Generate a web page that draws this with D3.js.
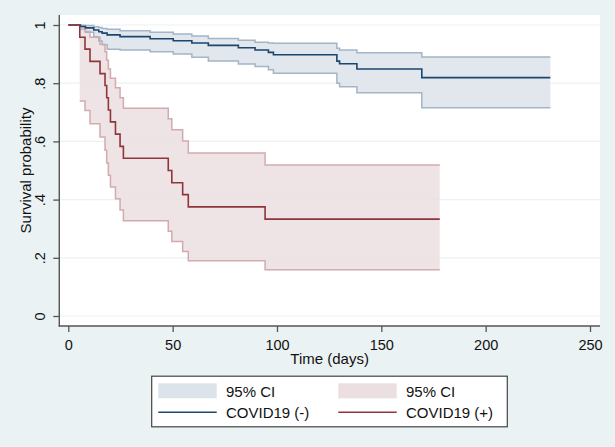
<!DOCTYPE html>
<html>
<head>
<meta charset="utf-8">
<script src="https://cdn.jsdelivr.net/npm/d3@7"></script>
<style>
  html, body { margin: 0; padding: 0; background: #eaf2f3; }
  svg { display: block; font-family: "Liberation Sans", Arial, Helvetica, sans-serif; }
</style>
</head>
<body>
<svg id="chart" width="615" height="447"></svg>
<script>
// ---- Data ----
// COVID19 (-)
const negTimes = [0, 5.8, 8.2, 12.2, 14.6, 16.2, 18.6, 24.8, 39.2, 50.3, 59.2, 67.1, 81.5, 89.5, 95.9, 98.3, 128.7, 130.0, 138.3, 169.4];
const negSurv  = [1, .995, .990, .983, .977, .972, .966, .960, .953, .946, .938, .930, .922, .914, .906, .898, .876, .867, .849, .819];
const negUpper = [1, .999, .998, .994, .991, .988, .985, .980, .975, .969, .962, .954, .948, .941, .938, .937, .920, .914, .905, .890];
const negLower = [1, .985, .975, .960, .945, .932, .917, .914, .908, .900, .889, .876, .866, .857, .846, .834, .800, .788, .767, .716];
const negEnd = 231;
// COVID19 (+)
const posTimes = [0, 5.5, 8.0, 10.4, 15.2, 17.6, 18.4, 19.2, 20.2, 22.6, 24.8, 26.4, 47.9, 49.6, 54.8, 57.5, 94.3];
const posSurv  = [1, .958, .917, .875, .833, .792, .750, .708, .667, .625, .583, .542, .500, .458, .417, .375, .333];
const posUpper = [1, .994, .978, .958, .934, .908, .879, .849, .817, .784, .750, .714, .678, .640, .601, .560, .519];
const posLower = [1, .739, .706, .661, .615, .570, .526, .484, .443, .403, .364, .327, .291, .256, .222, .190, .159];
const posEnd = 178;

const xTicks = [0, 50, 100, 150, 200, 250];
const yTicks = [0, .2, .4, .6, .8, 1];
const yTickLabels = ["0", ".2", ".4", ".6", ".8", "1"];
const legendLabels = ["95% CI", "COVID19 (-)", "95% CI", "COVID19 (+)"];

// ---- Styles ----
const navy = "#1a476f", maroon = "#90353b";
const navyFill = "#dde3ea", maroonFill = "#ecdfe1";
const navyEdge = "#a3b5c7", maroonEdge = "#d3aab0";

const svg = d3.select("#chart");
const plotL = 59.3, plotR = 600, plotT = 15, plotB = 326;

const x = d3.scaleLinear().domain([0, 250]).range([68.3, 590]);
const y = d3.scaleLinear().domain([0, 1]).range([316, 25]);

// background
svg.append("rect").attr("width", 615).attr("height", 447).attr("fill", "#eaf2f3");
svg.append("rect").attr("x", plotL).attr("y", plotT).attr("width", plotR - plotL).attr("height", plotB - plotT).attr("fill", "#fff");

// gridlines
svg.append("g").selectAll("line").data(yTicks).join("line")
  .attr("x1", plotL).attr("x2", plotR)
  .attr("y1", d => y(d)).attr("y2", d => y(d))
  .attr("stroke", "#eaf2f3").attr("stroke-width", 1.2);

function rows(times, vals, end, start) {
  const r = [];
  for (let i = start; i < times.length; i++) r.push({t: times[i], v: vals[i]});
  r.push({t: end, v: vals[vals.length - 1]});
  return r;
}
function bandRows(times, lo, hi, end) {
  const r = [];
  for (let i = 1; i < times.length; i++) r.push({t: times[i], lo: lo[i], hi: hi[i]});
  r.push({t: end, lo: lo[lo.length - 1], hi: hi[hi.length - 1]});
  return r;
}

const area = d3.area().curve(d3.curveStepAfter)
  .x(d => x(d.t)).y0(d => y(d.lo)).y1(d => y(d.hi));
const line = d3.line().curve(d3.curveStepAfter).x(d => x(d.t)).y(d => y(d.v));

const groups = [
  {times: negTimes, surv: negSurv, lo: negLower, hi: negUpper, end: negEnd, fill: navyFill, edge: navyEdge, col: navy},
  {times: posTimes, surv: posSurv, lo: posLower, hi: posUpper, end: posEnd, fill: maroonFill, edge: maroonEdge, col: maroon}
];

const gCI = svg.append("g");
groups.forEach(g => {
  const b = bandRows(g.times, g.lo, g.hi, g.end);
  gCI.append("path").attr("d", area(b)).attr("fill", g.fill).attr("fill-opacity", 0.85);
});
groups.forEach(g => {
  gCI.append("path").attr("d", line(rows(g.times, g.hi, g.end, 1))).attr("fill", "none").attr("stroke", g.edge).attr("stroke-width", 1.5);
  gCI.append("path").attr("d", line(rows(g.times, g.lo, g.end, 1))).attr("fill", "none").attr("stroke", g.edge).attr("stroke-width", 1.5);
});
groups.forEach(g => {
  svg.append("path").attr("d", line(rows(g.times, g.surv, g.end, 0)))
    .attr("fill", "none").attr("stroke", g.col).attr("stroke-width", 1.6);
});

// axes
const axisCol = "#555";
const yAxis = svg.append("g").attr("transform", `translate(${plotL},0)`)
  .call(d3.axisLeft(y).tickValues(yTicks).tickSize(6).tickFormat((d, i) => yTickLabels[i]));
yAxis.select(".domain").remove();
yAxis.selectAll(".tick line").attr("stroke", axisCol).attr("stroke-width", 1.3);
yAxis.selectAll(".tick text")
  .attr("x", null).attr("dy", null).attr("y", null)
  .attr("transform", "translate(-14.3,0) rotate(-90)")
  .attr("text-anchor", "middle")
  .attr("font-size", 14.5).attr("fill", "#111")
  .attr("font-family", "Liberation Sans, Arial, sans-serif");

const xAxis = svg.append("g").attr("transform", `translate(0,${plotB})`)
  .call(d3.axisBottom(x).tickValues(xTicks).tickSize(6));
xAxis.select(".domain").remove();
xAxis.selectAll(".tick line").attr("stroke", axisCol).attr("stroke-width", 1.3);
xAxis.selectAll(".tick text")
  .attr("y", 24).attr("dy", null)
  .attr("font-size", 14.5).attr("fill", "#111")
  .attr("font-family", "Liberation Sans, Arial, sans-serif");

svg.append("line").attr("x1", plotL).attr("x2", plotL).attr("y1", plotT).attr("y2", plotB + 0.6)
  .attr("stroke", axisCol).attr("stroke-width", 1.4);
svg.append("line").attr("x1", plotL - 0.6).attr("x2", plotR).attr("y1", plotB).attr("y2", plotB)
  .attr("stroke", axisCol).attr("stroke-width", 1.4);

// axis titles
svg.append("text").attr("x", (plotL + plotR) / 2).attr("y", 364)
  .attr("text-anchor", "middle").attr("font-size", 15).attr("fill", "#111").text("Time (days)");
svg.append("text").attr("transform", `translate(31,${(25 + 316) / 2}) rotate(-90)`)
  .attr("text-anchor", "middle").attr("font-size", 15).attr("fill", "#111").text("Survival probability");

// legend
const leg = svg.append("g");
leg.append("rect").attr("x", 151.7).attr("y", 376.2).attr("width", 355.6).attr("height", 50.6)
  .attr("fill", "#fff").attr("stroke", "#444").attr("stroke-width", 1.2);
const cols = [
  {x0: 158.3, fill: navyFill, col: navy},
  {x0: 338.3, fill: maroonFill, col: maroon}
];
cols.forEach((c, i) => {
  leg.append("rect").attr("x", c.x0).attr("y", 383.3).attr("width", 58.4).attr("height", 15).attr("fill", c.fill);
  leg.append("line").attr("x1", c.x0).attr("x2", c.x0 + 58.4).attr("y1", 412.3).attr("y2", 412.3)
    .attr("stroke", c.col).attr("stroke-width", 1.5);
  leg.append("text").attr("x", c.x0 + 67.7).attr("y", 397.3).attr("font-size", 15).attr("fill", "#111").text(legendLabels[i * 2]);
  leg.append("text").attr("x", c.x0 + 67.7).attr("y", 418.3).attr("font-size", 15).attr("fill", "#111").text(legendLabels[i * 2 + 1]);
});
</script>
</body>
</html>
